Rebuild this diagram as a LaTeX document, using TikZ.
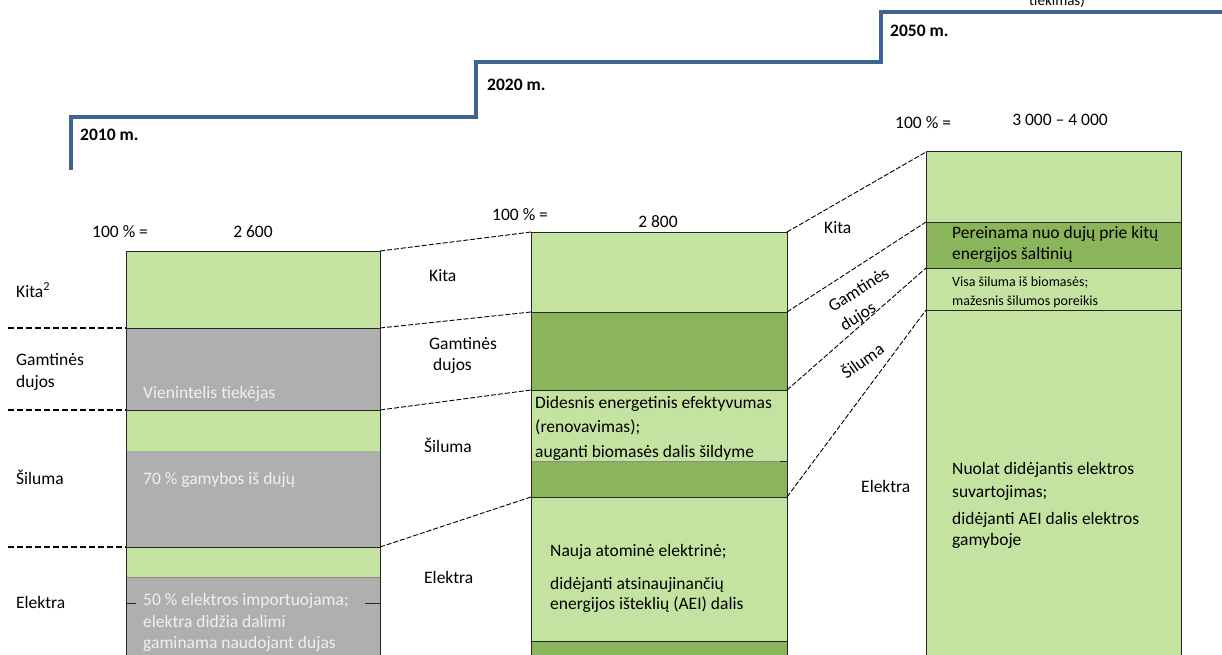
\documentclass[tikz,border=0pt]{standalone}
\usepackage{fontspec}
\setmainfont{Carlito}

\definecolor{paleGreen}{HTML}{C4E3A1}
\definecolor{deepGreen}{HTML}{8AB55A}
\definecolor{barGray}{HTML}{AFAFAF}
\definecolor{stairBlue}{HTML}{3E6491}
\definecolor{paleText}{HTML}{F0F0F0}

\tikzset{
  txt/.style={font=\fontsize{17.5}{21}\selectfont, inner sep=0pt, anchor=base west},
  smalltxt/.style={txt, font=\fontsize{14}{17}\selectfont},
  yeartxt/.style={txt, font=\fontsize{17.5}{21}\selectfont\bfseries},
  bartxt/.style={txt, text=paleText},
  edge/.style={draw=black!85, line width=1pt},
  link/.style={dash pattern=on 5pt off 2pt, line width=0.9pt},
  guide/.style={dash pattern=on 6pt off 3pt, line width=1.8pt},
}

\begin{document}
\begin{tikzpicture}[x=1pt,y=-1pt]
        \useasboundingbox (0,0) rectangle (1222,655);

        % time steps
        \draw[stairBlue, line width=4pt] (71,170) -- (71,117) -- (476,117) -- (476,62) -- (881,62) -- (881,12) -- (1222,12);
        \node[yeartxt] (y2010) at (80,141) {2010 m.};
        \node[yeartxt] (y2020) at (487,91) {2020 m.};
        \node[yeartxt] (y2050) at (890,37) {2050 m.};
        \node[txt, font=\fontsize{15}{18}\selectfont, anchor=base] (cut) at (1057,6) {tiekimas)};

        % 2010
        \fill[paleGreen] (126,251) rectangle (380,328);
        \fill[barGray] (126,328) rectangle (380,410);
        \fill[paleGreen] (126,410) rectangle (380,451);
        \fill[barGray] (126,451) rectangle (380,547);
        \fill[paleGreen] (126,547) rectangle (380,577);
        \fill[barGray] (126,577) rectangle (380,660);
        \draw[black!45, line width=0.8pt] (126,577) -- (380,577);
        \draw[edge] (126,660) -- (126,251) -- (380,251) -- (380,660);
        \draw[edge] (126,328) -- (380,328);
        \draw[edge] (126,410) -- (380,410);
        \draw[edge] (126,547) -- (380,547);
        \draw[edge] (126,603) -- (136,603);
        \draw[edge] (365,603) -- (380,603);

        \coordinate (l1gas) at (126,328);
        \coordinate (l1heat) at (126,410);
        \coordinate (l1elec) at (126,547);
        \coordinate (r1top) at (380,251);
        \coordinate (r1gas) at (380,328);
        \coordinate (r1heat) at (380,410);
        \coordinate (r1elec) at (380,547);
        \coordinate (g1) at (8,328);
        \coordinate (g2) at (8,410);
        \coordinate (g3) at (8,547);
        \draw[guide] (g1) -- (l1gas);
        \draw[guide] (g2) -- (l1heat);
        \draw[guide] (g3) -- (l1elec);

        \node[txt] (pct1) at (92,237) {100 \% =};
        \node[txt, anchor=base] (tot1) at (253,237) {2 600};
        \node[txt] (kita1) at (16,297) {Kita\textsuperscript{2}};
        \node[txt] (gas1a) at (16,365) {Gamtinės};
        \node[txt] (gas1b) at (16,387) {dujos};
        \node[txt] (heat1) at (16,484) {Šiluma};
        \node[txt] (elec1) at (16,608) {Elektra};

        \node[bartxt] (gasnote1) at (143,398) {Vienintelis tiekėjas};
        \node[bartxt] (heatnote1) at (143,484) {70 \% gamybos iš dujų};
        \node[bartxt] (elecnote1a) at (143,605) {50 \% elektros importuojama;};
        \node[bartxt] (elecnote1b) at (143,627) {elektra didžia dalimi};
        \node[bartxt] (elecnote1c) at (143,648) {gaminama naudojant dujas};

        % 2020
        \fill[paleGreen] (531,232) rectangle (787,312);
        \fill[deepGreen] (531,312) rectangle (787,390);
        \fill[paleGreen] (531,390) rectangle (787,461);
        \fill[deepGreen] (531,461) rectangle (787,497);
        \fill[paleGreen] (531,497) rectangle (787,641);
        \fill[deepGreen] (531,641) rectangle (787,660);
        \draw[black!45, line width=0.8pt] (531,461) -- (787,461);
        \draw[edge] (780,461) -- (787,461);
        \draw[edge] (531,660) -- (531,232) -- (787,232) -- (787,660);
        \draw[edge] (531,312) -- (787,312);
        \draw[edge] (531,390) -- (787,390);
        \draw[edge] (531,497) -- (787,497);
        \draw[edge] (531,641) -- (787,641);

        \coordinate (l2top) at (531,232);
        \coordinate (l2gas) at (531,312);
        \coordinate (l2heat) at (531,390);
        \coordinate (l2elec) at (531,497);
        \coordinate (r2top) at (787,232);
        \coordinate (r2gas) at (787,312);
        \coordinate (r2heat) at (787,390);
        \coordinate (r2elec) at (787,497);
        \draw[link] (r1top) -- (l2top);
        \draw[link] (r1gas) -- (l2gas);
        \draw[link] (r1heat) -- (l2heat);
        \draw[link] (r1elec) -- (l2elec);

        \node[txt] (pct2) at (492,220) {100 \% =};
        \node[txt, anchor=base] (tot2) at (658,227) {2 800};
        \node[txt] (kita2) at (429,281) {Kita};
        \node[txt] (gas2a) at (429,349) {Gamtinės};
        \node[txt] (gas2b) at (433,370) {dujos};
        \node[txt] (heat2) at (424,452) {Šiluma};
        \node[txt] (elec2) at (424,583) {Elektra};

        \node[txt] (heatnote2a) at (535,408) {Didesnis energetinis efektyvumas};
        \node[txt] (heatnote2b) at (535,432) {(renovavimas);};
        \node[txt] (heatnote2c) at (535,457) {auganti biomasės dalis šildyme};
        \node[txt] (elecnote2a) at (550,556) {Nauja atominė elektrinė;};
        \node[txt] (elecnote2b) at (550,589) {didėjanti atsinaujinančių};
        \node[txt] (elecnote2c) at (550,609) {energijos išteklių (AEI) dalis};

        % 2050
        \fill[paleGreen] (926,152) rectangle (1181,222);
        \fill[deepGreen] (926,222) rectangle (1181,268);
        \fill[paleGreen] (926,268) rectangle (1181,660);
        \draw[edge] (926,660) -- (926,152) -- (1181,152) -- (1181,660);
        \draw[edge] (926,222) -- (1181,222);
        \draw[edge] (926,268) -- (1181,268);
        \draw[edge] (926,310) -- (1181,310);

        \coordinate (l3top) at (926,152);
        \coordinate (l3gas) at (926,222);
        \coordinate (l3heat) at (926,268);
        \coordinate (l3elec) at (926,310);
        \draw[link] (r2top) -- (l3top);
        \draw[link] (r2gas) -- (l3gas);
        \draw[link] (r2heat) -- (l3heat);
        \draw[link] (r2elec) -- (l3elec);

        \node[txt] (pct3) at (895,129) {100 \% =};
        \node[txt, anchor=base] (tot3) at (1060,126) {3 000 – 4 000};
        \node[txt] (kita3) at (824,233) {Kita};
        \node[txt, font=\fontsize{17.5}{22}\selectfont, align=left, anchor=center, rotate=32] (gas3) at (865,300) {Gamtinės\\dujos};
        \node[txt, anchor=center, rotate=35] (heat3) at (862,360) {Šiluma};
        \node[txt] (elec3) at (861,492) {Elektra};

        \node[txt] (gasnote3a) at (952,238) {Pereinama nuo dujų prie kitų};
        \node[txt] (gasnote3b) at (952,259) {energijos šaltinių};
        \node[smalltxt] (heatnote3a) at (952,286) {Visa šiluma iš biomasės;};
        \node[smalltxt] (heatnote3b) at (952,305) {mažesnis šilumos poreikis};
        \node[txt] (elecnote3a) at (952,474) {Nuolat didėjantis elektros};
        \node[txt] (elecnote3b) at (952,497) {suvartojimas;};
        \node[txt] (elecnote3c) at (952,524) {didėjanti AEI dalis elektros};
        \node[txt] (elecnote3d) at (952,545) {gamyboje};

    \end{tikzpicture}
\end{document}
